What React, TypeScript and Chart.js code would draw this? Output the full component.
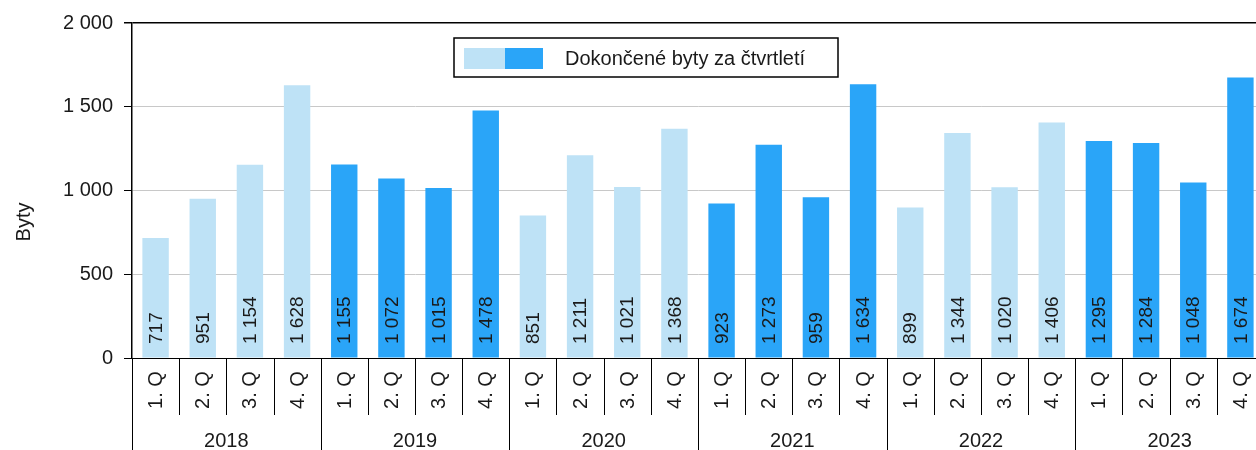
import React, { useEffect, useRef } from "react";
import { Chart, registerables } from "chart.js";

Chart.register(...registerables);

const years = ["2018", "2019", "2020", "2021", "2022", "2023"];
const quarters = ["1. Q", "2. Q", "3. Q", "4. Q"];
const values2018 = [717, 951, 1154, 1628];
const values2019 = [1155, 1072, 1015, 1478];
const values2020 = [851, 1211, 1021, 1368];
const values2021 = [923, 1273, 959, 1634];
const values2022 = [899, 1344, 1020, 1406];
const values2023 = [1295, 1284, 1048, 1674];
const yearValues = [values2018, values2019, values2020, values2021, values2022, values2023];
const yTicks = [0, 500, 1000, 1500, 2000];
const seriesLabel = "Dokončené byty za čtvrtletí";
const yTitle = "Byty";

const LIGHT = "#BEE2F6";
const DARK = "#2AA5F8";
const FONT = "'Liberation Sans', Arial, sans-serif";
const TEXT = "#1a1a1a";

const fmt = (v: number) => String(v).replace(/\B(?=(\d{3})+(?!\d))/g, " ");

const labels: string[] = [];
const data: number[] = [];
const colors: string[] = [];
yearValues.forEach((vals, yi) => {
  vals.forEach((v, qi) => {
    labels.push(years[yi] + " " + quarters[qi]);
    data.push(v);
    colors.push(yi % 2 === 0 ? LIGHT : DARK);
  });
});

const overlay = {
  id: "overlay",
  afterDraw(chart: any) {
    const ctx = chart.ctx;
    const xs = chart.scales.x;
    const ys = chart.scales.y;
    const n = data.length;
    const catW = n > 1 ? xs.getPixelForValue(1) - xs.getPixelForValue(0) : 40;
    const bottom = ys.getPixelForValue(0);
    ctx.save();
    // value labels
    ctx.fillStyle = TEXT;
    ctx.font = `19px ${FONT}`;
    for (let i = 0; i < n; i++) {
      const x = xs.getPixelForValue(i);
      ctx.save();
      ctx.translate(x + 1, bottom - 14);
      ctx.rotate(-Math.PI / 2);
      ctx.textAlign = "left";
      ctx.textBaseline = "middle";
      ctx.fillText(fmt(data[i]), 0, 0);
      ctx.restore();
    }
    // separators
    ctx.strokeStyle = "#000";
    ctx.lineWidth = 1;
    for (let i = 0; i <= n; i++) {
      const bx = Math.round(xs.getPixelForValue(0) - catW / 2 + i * catW) + 0.5;
      const yearEdge = i % 4 === 0;
      ctx.beginPath();
      ctx.moveTo(bx, bottom);
      ctx.lineTo(bx, yearEdge ? 452 : 415);
      ctx.stroke();
    }
    // quarter labels
    ctx.font = `20px ${FONT}`;
    for (let i = 0; i < n; i++) {
      const x = xs.getPixelForValue(i);
      ctx.save();
      ctx.translate(x + 1, 390);
      ctx.rotate(-Math.PI / 2);
      ctx.textAlign = "center";
      ctx.textBaseline = "middle";
      ctx.fillText(quarters[i % 4], 0, 0);
      ctx.restore();
    }
    // year labels
    ctx.textAlign = "center";
    ctx.textBaseline = "middle";
    years.forEach((y, yi) => {
      const cx = (xs.getPixelForValue(yi * 4) + xs.getPixelForValue(yi * 4 + 3)) / 2;
      ctx.fillText(y, cx, 441);
    });
    // y title
    ctx.save();
    ctx.translate(24, 222);
    ctx.rotate(-Math.PI / 2);
    ctx.font = `20px ${FONT}`;
    ctx.fillText(yTitle, 0, 0);
    ctx.restore();
    // legend
    ctx.fillStyle = "#fff";
    ctx.fillRect(454, 38, 384, 39);
    ctx.strokeStyle = "#000";
    ctx.lineWidth = 1.5;
    ctx.strokeRect(454, 38, 384, 39);
    ctx.fillStyle = LIGHT;
    ctx.fillRect(464, 48, 41, 21);
    ctx.fillStyle = DARK;
    ctx.fillRect(505, 48, 38, 21);
    ctx.fillStyle = TEXT;
    ctx.font = `20px ${FONT}`;
    ctx.textAlign = "left";
    ctx.textBaseline = "middle";
    ctx.fillText(seriesLabel, 565, 59);
    ctx.restore();
  },
};

export default function App() {
  const ref = useRef<HTMLCanvasElement | null>(null);
  useEffect(() => {
    document.body.style.margin = "0";
    if (!ref.current) return;
    const chart = new Chart(ref.current, {
      type: "bar",
      data: {
        labels,
        datasets: [
          {
            label: seriesLabel,
            data,
            backgroundColor: colors,
            borderWidth: 0,
            categoryPercentage: 1,
            barPercentage: 0.56,
          },
        ],
      },
      options: {
        responsive: false,
        animation: false,
        devicePixelRatio: 1,
        layout: { padding: { left: 0, top: 22, right: 8, bottom: 92 } },
        plugins: { legend: { display: false }, tooltip: { enabled: false } },
        scales: {
          x: { type: "category", display: false, offset: true },
          y: {
            min: 0,
            max: 2000,
            afterFit: (s: any) => {
              s.width = 132;
            },
            afterBuildTicks: (s: any) => {
              s.ticks = yTicks.map((v) => ({ value: v }));
            },
            ticks: {
              padding: 11,
              color: TEXT,
              font: { family: FONT, size: 20 },
              callback: (v: any) => fmt(Number(v)),
            },
            grid: {
              color: (c: any) => (c.tick && (c.tick.value === 2000 || c.tick.value === 0) ? "#000" : "#c8c8c8"),
              lineWidth: (c: any) => (c.tick && c.tick.value === 2000 ? 1.5 : 1),
              tickLength: 8,
              tickColor: "#000",
            },
            border: { display: true, color: "#000", width: 1.5 },
          },
        },
      },
      plugins: [overlay],
    });
    return () => chart.destroy();
  }, []);
  return (
    <div style={{ position: "fixed", left: 0, top: 0, width: 1256, height: 450, overflow: "hidden", background: "#fff" }}>
      <canvas ref={ref} width={1272} height={450} style={{ display: "block" }} />
    </div>
  );
}
